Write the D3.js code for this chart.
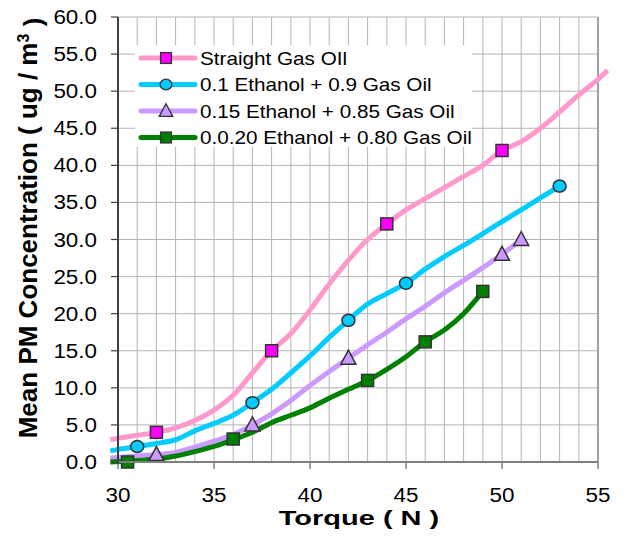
<!DOCTYPE html>
<html>
<head>
<meta charset="utf-8">
<title>Mean PM Concentration vs Torque</title>
<script src="https://cdn.jsdelivr.net/npm/d3@7"></script>
<style>
  body { margin: 0; background: #fff; }
  text { font-family: "Liberation Sans", Arial, sans-serif; }
</style>
</head>
<body>
<div id="chart"></div>
<script>
// values
const seriesNames = ["Straight Gas OIl", "0.1 Ethanol + 0.9 Gas Oil", "0.15 Ethanol + 0.85 Gas Oil", "0.0.20 Ethanol + 0.80 Gas Oil"];

const gasOilLine = [[29.6,3.0],[30,3.2],[31,3.6],[32,4.0],[33,4.6],[34,5.6],[35,7.0],[36,9.0],[37,12.0],[38,15.0],[39,17.3],[40,20.5],[41,24.0],[42,27.2],[43,30.0],[44,32.1],[45,34.0],[46,35.5],[47,37.0],[48,38.5],[49,40.0],[50,42.0],[51,43.2],[52,45.0],[53,47.2],[54,49.5],[55,51.6],[55.5,52.8]];
const gasOilMarks = [[32,4.0],[38,15.0],[44,32.1],[50,42.0]];

const eth10Line = [[29.6,1.5],[30,1.7],[31,2.1],[32,2.5],[33,3.0],[34,4.2],[35,5.2],[36,6.3],[37,8.0],[38,9.8],[39,12.0],[40,14.3],[41,16.8],[42,19.1],[43,21.3],[44,22.7],[45,24.1],[46,26.0],[47,27.7],[48,29.2],[49,30.8],[50,32.4],[51,34.0],[52,35.6],[53,37.2]];
const eth10Marks = [[31,2.1],[37,8.0],[42,19.1],[45,24.1],[53,37.2]];

const eth15Line = [[29.6,0.5],[30,0.6],[31,0.8],[32,1.0],[33,1.3],[34,2.0],[35,2.8],[36,3.7],[37,5.0],[38,6.5],[39,8.3],[40,10.3],[41,12.2],[42,14.0],[43,15.8],[44,17.5],[45,19.3],[46,21.0],[47,22.8],[48,24.5],[49,26.2],[50,28.0],[51,30.0]];
const eth15Marks = [[32,1.0],[37,5.0],[42,14.0],[50,28.0],[51,30.0]];

const eth20Line = [[29.6,0.0],[30,0.05],[30.5,0.1],[31,0.2],[32,0.4],[33,0.8],[34,1.4],[35,2.1],[36,3.0],[37,4.0],[38,5.3],[39,6.3],[40,7.3],[41,8.6],[42,9.8],[43,11.0],[44,12.5],[45,14.2],[46,16.2],[47,17.8],[48,20.0],[49,23.0]];
const eth20Marks = [[30.5,0.0],[36,3.1],[43,11.0],[46,16.2],[49,23.0]];

const xTicks = [30, 35, 40, 45, 50, 55];
const yTicks = [0, 5, 10, 15, 20, 25, 30, 35, 40, 45, 50, 55, 60];

const W = 623, H = 538;
const plot = {left: 118, right: 598, top: 17, bottom: 462};
const stretch = 1.15; // the original text is a bit wide

const x = d3.scaleLinear().domain([30, 55]).range([plot.left, plot.right]);
const y = d3.scaleLinear().domain([0, 60]).range([plot.bottom, plot.top]);

const svg = d3.select("#chart").append("svg")
    .attr("width", W)
    .attr("height", H);

// text placed at (tx,ty) and widened
function wideText(parent, tx, ty, anchor, size, str, k) {
    return parent.append("g")
        .attr("transform", "translate(" + tx + "," + ty + ") scale(" + (k || stretch) + ",1)")
        .append("text")
        .attr("text-anchor", anchor)
        .style("font-size", size + "px")
        .text(str);
}

// grid: vertical every 1, horizontal every 5
svg.append("g").selectAll("line").data(d3.range(31, 56)).enter()
    .append("line")
    .attr("x1", d => x(d)).attr("x2", d => x(d))
    .attr("y1", plot.top).attr("y2", plot.bottom)
    .attr("stroke", "#b4b4b4").attr("stroke-width", 1);

svg.append("g").selectAll("line").data(yTicks.slice(1)).enter()
    .append("line")
    .attr("x1", plot.left).attr("x2", plot.right)
    .attr("y1", d => y(d)).attr("y2", d => y(d))
    .attr("stroke", "#b4b4b4").attr("stroke-width", 1);

// right border
svg.append("line")
    .attr("x1", plot.right).attr("x2", plot.right).attr("y1", plot.top).attr("y2", plot.bottom)
    .attr("stroke", "#8c8c8c").attr("stroke-width", 1.5);

const series = [
    {name: seriesNames[0], line: gasOilLine, marks: gasOilMarks, color: "#ff99cc", fill: "#ff00ff", shape: "square"},
    {name: seriesNames[1], line: eth10Line, marks: eth10Marks, color: "#00ccff", fill: "#00ccff", shape: "circle"},
    {name: seriesNames[2], line: eth15Line, marks: eth15Marks, color: "#cc99ff", fill: "#cc99ff", shape: "triangle"},
    {name: seriesNames[3], line: eth20Line, marks: eth20Marks, color: "#008000", fill: "#008000", shape: "square"}
];

const line = d3.line()
    .x(d => x(d[0]))
    .y(d => y(d[1]))
    .curve(d3.curveCatmullRom);

function drawMarker(g, shape, fill) {
    if (shape === "square") {
        g.append("rect").attr("x", -6).attr("y", -6).attr("width", 12).attr("height", 12)
            .attr("fill", fill).attr("stroke", "#333").attr("stroke-width", 1.5);
    } else if (shape === "circle") {
        g.append("ellipse").attr("rx", 6.5).attr("ry", 6)
            .attr("fill", fill).attr("stroke", "#333").attr("stroke-width", 1.5);
    } else {
        g.append("path").attr("d", "M0,-8L7.5,6L-7.5,6Z")
            .attr("fill", fill).attr("stroke", "#333").attr("stroke-width", 1.5);
    }
}

series.forEach(function(s) {
    svg.append("path")
        .datum(s.line)
        .attr("fill", "none")
        .attr("stroke", s.color)
        .attr("stroke-width", 5)
        .attr("stroke-linejoin", "round")
        .attr("d", line);
});

series.forEach(function(s) {
    s.marks.forEach(function(m) {
        const g = svg.append("g").attr("transform", "translate(" + x(m[0]) + "," + y(m[1]) + ")");
        drawMarker(g, s.shape, s.fill);
    });
});

// axes
svg.append("line")
    .attr("x1", plot.left).attr("x2", plot.right).attr("y1", plot.bottom).attr("y2", plot.bottom)
    .attr("stroke", "#808080").attr("stroke-width", 2);
svg.append("g").selectAll("line").data(xTicks).enter()
    .append("line")
    .attr("x1", d => x(d)).attr("x2", d => x(d))
    .attr("y1", plot.bottom).attr("y2", plot.bottom + 7)
    .attr("stroke", "#808080").attr("stroke-width", 1.5);

svg.append("line")
    .attr("x1", plot.left).attr("x2", plot.left).attr("y1", plot.top).attr("y2", plot.bottom + 2)
    .attr("stroke", "#404040").attr("stroke-width", 2);
svg.append("g").selectAll("line").data(yTicks).enter()
    .append("line")
    .attr("x1", plot.left - 7).attr("x2", plot.left)
    .attr("y1", d => y(d)).attr("y2", d => y(d))
    .attr("stroke", "#404040").attr("stroke-width", 1.2);

const yLab = svg.append("g");
yTicks.forEach(function(t) {
    wideText(yLab, plot.left - 21, y(t) + 7, "end", 19.5, t.toFixed(1));
});

const xLab = svg.append("g");
xTicks.forEach(function(t) {
    wideText(xLab, x(t), 502, "middle", 19.5, t);
});

wideText(svg, 359, 525, "middle", 21, "Torque ( N )", 1.38)
    .style("font-weight", "bold");

const yTitle = svg.append("text")
    .attr("transform", "translate(37,228) rotate(-90)")
    .attr("text-anchor", "middle")
    .style("font-size", "26px")
    .style("font-weight", "bold");
yTitle.append("tspan").text("Mean PM Concentration ( ug / m");
yTitle.append("tspan").attr("dy", "-0.5em").style("font-size", "16px").text("3");
yTitle.append("tspan").attr("dy", "0.5em").text(" )");

// legend
const legend = svg.append("g");
legend.append("rect")
    .attr("x", 135).attr("y", 45).attr("width", 337).attr("height", 102)
    .attr("fill", "#fff");
series.forEach(function(s, i) {
    const ly = 58 + i * 26.5;
    legend.append("line")
        .attr("x1", 141).attr("x2", 195).attr("y1", ly).attr("y2", ly)
        .attr("stroke", s.color).attr("stroke-width", 5).attr("stroke-linecap", "round");
    const g = legend.append("g").attr("transform", "translate(166," + ly + ")scale(0.9)");
    drawMarker(g, s.shape, s.fill);
    wideText(legend, 200, ly + 6.5, "start", 18, s.name);
});
</script>
</body>
</html>
